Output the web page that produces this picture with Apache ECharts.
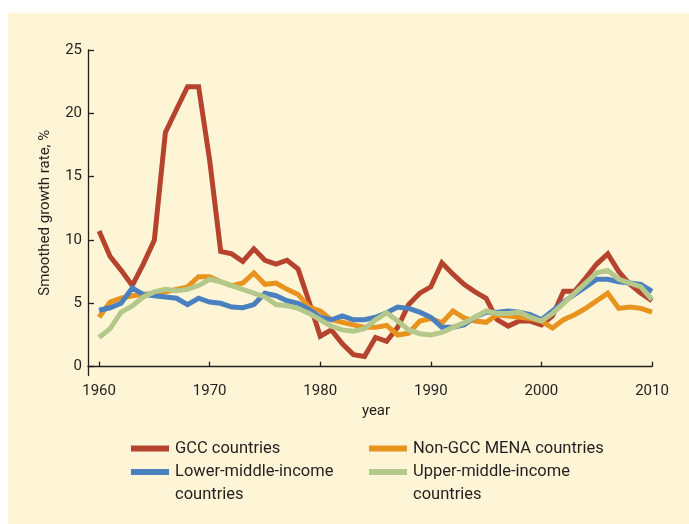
<!DOCTYPE html>
<html><head><meta charset="utf-8">
<script src="https://cdn.jsdelivr.net/npm/echarts@6/dist/echarts.min.js"></script>
<style>
html,body{margin:0;padding:0;background:#fff;}
#bg{position:absolute;left:8px;top:13px;width:681px;height:511px;background:#fdf5d5;}
#chart{position:absolute;left:0;top:0;width:689px;height:524px;}
</style></head><body>
<div id="bg"></div><div id="chart"></div>
<script>
const years = [1960,1961,1962,1963,1964,1965,1966,1967,1968,1969,
  1970,1971,1972,1973,1974,1975,1976,1977,1978,1979,
  1980,1981,1982,1983,1984,1985,1986,1987,1988,1989,
  1990,1991,1992,1993,1994,1995,1996,1997,1998,1999,
  2000,2001,2002,2003,2004,2005,2006,2007,2008,2009,2010];
const xTicks = [1960,1970,1980,1990,2000,2010];
const yTicks = [0,5,10,15,20,25];
const seriesNames = ['GCC countries','Non-GCC MENA countries','Lower-middle-income countries','Upper-middle-income countries'];
const gcc = [10.7,8.7,7.6,6.4,8.1,10.0,18.5,20.3,22.1,22.1,
  16.3,9.1,8.9,8.3,9.3,8.4,8.1,8.4,7.7,5.1,
  2.4,2.9,1.8,0.95,0.8,2.3,2.0,3.1,4.9,5.8,
  6.3,8.2,7.3,6.5,5.9,5.4,3.7,3.2,3.6,3.6,
  3.3,4.0,5.95,5.95,7.0,8.1,8.9,7.5,6.5,5.8,5.2];
const nonGcc = [3.9,5.1,5.4,5.6,5.7,5.8,5.9,6.1,6.3,7.1,
  7.1,6.7,6.4,6.6,7.4,6.5,6.6,6.1,5.7,4.7,
  4.4,3.7,3.5,3.3,3.1,3.1,3.25,2.5,2.65,3.6,
  3.8,3.45,4.4,3.85,3.6,3.5,4.1,4.0,3.9,3.8,
  3.6,3.05,3.7,4.1,4.6,5.2,5.8,4.6,4.7,4.6,4.3];
const lowerMid = [4.45,4.65,5.0,6.2,5.7,5.6,5.5,5.4,4.9,5.4,
  5.1,5.0,4.7,4.65,4.9,5.8,5.6,5.2,5.0,4.5,
  3.9,3.7,4.0,3.7,3.7,3.9,4.25,4.7,4.6,4.3,
  3.9,3.1,3.1,3.3,3.9,4.3,4.3,4.4,4.3,4.1,
  3.7,4.4,5.1,5.7,6.3,6.9,6.9,6.7,6.6,6.5,5.95];
const upperMid = [2.3,3.0,4.3,4.8,5.5,5.9,6.1,6.0,6.1,6.4,
  6.9,6.7,6.4,6.1,5.8,5.5,4.9,4.8,4.6,4.2,
  3.7,3.2,2.9,2.8,3.0,3.7,4.25,3.6,2.9,2.6,
  2.5,2.7,3.1,3.45,3.9,4.4,4.2,4.2,4.3,3.9,
  3.6,4.2,5.0,5.8,6.6,7.4,7.6,6.9,6.6,6.3,5.3];

const colors = ['#b5432d','#e9931f','#4a80c0','#b4c88c'];
const FONT = 'Roboto';
const TXT = '#231f20';
const LFS = 16.5;
const pairs = arr => years.map((y,i)=>[y,arr[i]]);
const allData = [gcc, nonGcc, lowerMid, upperMid];

function mkLegend(name, left, iconCenter, wrapped){
  return {
    data:[name], left:left, top: iconCenter-11.5,
    padding:0, itemWidth:38, itemHeight:6, itemGap:0, icon:'rect',
    selectedMode:false,
    formatter: n => wrapped ? n.replace(' countries','') : n,
    textStyle:{fontFamily:FONT, fontSize:LFS, color:TXT, lineHeight:23, padding:[0,0,0,1]}
  };
}

const chart = echarts.init(document.getElementById('chart'), null, {renderer:'canvas'});
chart.setOption({
  backgroundColor:'transparent',
  animation:false,
  color: colors,
  grid:{left:88, right:37, top:50, bottom:148.5, containLabel:false},
  xAxis:{
    type:'value', min:1959, max:2010,
    name:'year', nameLocation:'middle', nameGap:26,
    nameTextStyle:{fontFamily:FONT, fontSize:15, color:TXT, padding:[0,0,0,12]},
    axisLine:{show:true, lineStyle:{color:TXT, width:1.3}},
    axisTick:{show:true, inside:true, length:5, customValues:xTicks, lineStyle:{color:TXT, width:1.3}},
    axisLabel:{customValues:xTicks, formatter: v => String(v), margin:8,
      fontFamily:FONT, fontSize:15, color:TXT},
    splitLine:{show:false}
  },
  yAxis:{
    type:'value', min:-0.7, max:25,
    name:'Smoothed growth rate, %', nameLocation:'middle', nameGap:35,
    nameTextStyle:{fontFamily:FONT, fontSize:15, color:TXT},
    axisLine:{show:true, lineStyle:{color:TXT, width:1.3}},
    axisTick:{show:true, inside:true, length:6, customValues:yTicks, lineStyle:{color:TXT, width:1.3}},
    axisLabel:{customValues:yTicks, margin:6, fontFamily:FONT, fontSize:15, color:TXT},
    splitLine:{show:false}
  },
  legend:[
    mkLegend(seriesNames[0], 131, 448.5, false),
    mkLegend(seriesNames[1], 369, 448.5, false),
    mkLegend(seriesNames[2], 131, 472, true),
    mkLegend(seriesNames[3], 369, 472, true)
  ],
  graphic:[
    {type:'text', x:175, y:494.5, silent:true,
      style:{text:'countries', fontFamily:FONT, fontSize:LFS, fill:TXT, verticalAlign:'middle'}},
    {type:'text', x:413, y:494.5, silent:true,
      style:{text:'countries', fontFamily:FONT, fontSize:LFS, fill:TXT, verticalAlign:'middle'}}
  ],
  series: seriesNames.map((n,i)=>({
    name:n, type:'line', data:pairs(allData[i]), showSymbol:false, symbol:'none',
    lineStyle:{width:5, color:colors[i], join:'miter'},
    itemStyle:{color:colors[i]},
    z: [1,2,3,4][i]
  }))
});
</script>
</body></html>
